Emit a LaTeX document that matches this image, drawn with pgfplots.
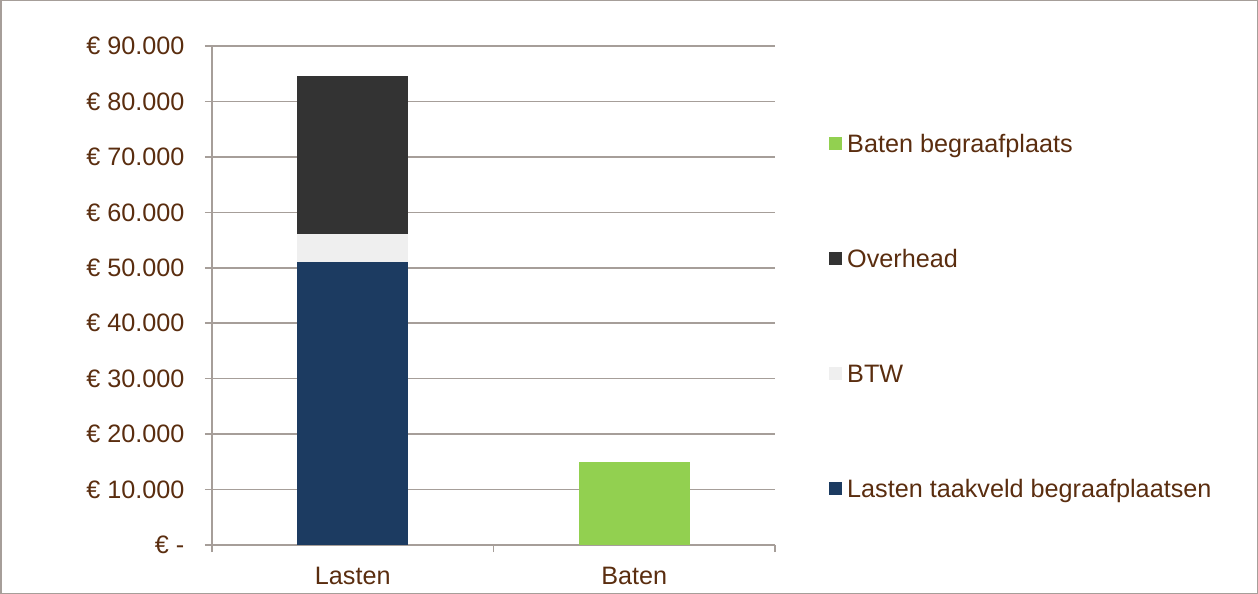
\documentclass[border=0pt]{standalone}
\usepackage{pgfplots}
\pgfplotsset{compat=1.18}
\usepackage{fontspec}
\setmainfont{Liberation Sans}
\definecolor{gridc}{HTML}{A69E99}
\definecolor{txt}{HTML}{5A2D0F}
\definecolor{cLasten}{HTML}{1C3B61}
\definecolor{cBTW}{HTML}{EFEFEF}
\definecolor{cOver}{HTML}{333333}
\definecolor{cBaten}{HTML}{92D050}
\begin{document}
\fontsize{25.2bp}{30.2bp}\selectfont
\begin{tikzpicture}
\useasboundingbox (0,0) rectangle (1258bp,594bp);
\draw[gridc, line width=1.5bp] (0.75bp,0.75bp) rectangle (1257.25bp,593.25bp);
\begin{axis}[
  at={(212bp,49bp)}, anchor=south west,
  scale only axis, width=563bp, height=499bp,
  xmin=-0.5, xmax=1.5, ymin=0, ymax=90000,
  scaled y ticks=false,
  ybar stacked, bar width=111bp,
  axis x line*=bottom, axis y line*=left,
  axis line style={gridc, line width=1.5bp, -},
  xtick={0,1}, xticklabels={Lasten,Baten},
  minor xtick={-0.5,0.5,1.5},
  major x tick style={draw=none},
  minor x tick style={gridc, line width=1.5bp},
  minor tick length=7bp,
  ytick={0,10000,...,90000},
  yticklabels={€ -\hspace{14bp},€ 10.000,€ 20.000,€ 30.000,€ 40.000,€ 50.000,€ 60.000,€ 70.000,€ 80.000,€ 90.000},
  major tick length=7bp, tick align=outside,
  y tick style={gridc, line width=1.5bp},
  ymajorgrids, grid style={gridc, line width=1.5bp},
  tick label style={text=txt},
  yticklabel style={xshift=-12bp},
  xticklabel style={yshift=-7bp},
  reverse legend,
  legend cell align=left,
  legend image code/.code={\fill[#1] (0bp,-6.5bp) rectangle (13bp,6.5bp);},
  legend style={at={(1.0906,0.8340)}, anchor=north west, draw=none, fill=none,
    text=txt, row sep=90.1bp, column sep=5bp, nodes={inner sep=0pt}},
]
\addplot[fill=cLasten, draw=none] coordinates {(0,51100) (1,0)};
\addlegendentry{\strut Lasten taakveld begraafplaatsen}
\addplot[fill=cBTW, draw=none] coordinates {(0,5000) (1,0)};
\addlegendentry{\strut BTW}
\addplot[fill=cOver, draw=none] coordinates {(0,28500) (1,0)};
\addlegendentry{\strut Overhead}
\addplot[fill=cBaten, draw=none] coordinates {(0,0) (1,15000)};
\addlegendentry{\strut Baten begraafplaats}
\end{axis}
\end{tikzpicture}
\end{document}
